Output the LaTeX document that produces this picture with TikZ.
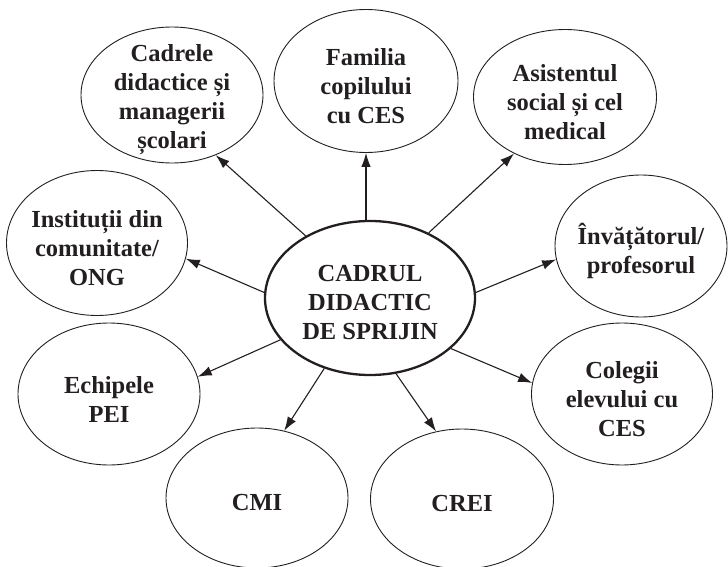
\documentclass[tikz,border=0pt]{standalone}
\usepackage{fontspec}
\setmainfont{Liberation Serif}
\usetikzlibrary{shapes.geometric,arrows.meta}
\definecolor{ink}{RGB}{35,31,32}
\begin{document}
\begin{tikzpicture}[x=1pt,y=-1pt,
  bub/.style={ellipse,draw=ink,line width=0.9pt,inner sep=0pt},
  txt/.style={inner sep=0pt,align=center,yshift=-5pt,
    font=\fontsize{24.5}{29}\selectfont\bfseries,text=ink},
  arr/.style={draw=ink,line width=1.1pt,-{Latex[length=14pt,width=9.5pt]}}]
\useasboundingbox (0,0) rectangle (728,567);
\node[bub,line width=2.3pt,minimum width=210pt,minimum height=154pt] (c) at (370,298) {};
\node[bub,minimum width=182pt,minimum height=136pt] (cad) at (172,95) {};
\node[bub,minimum width=184pt,minimum height=143pt] (fam) at (366,81) {};
\node[bub,minimum width=183pt,minimum height=135pt] (asi) at (565,97) {};
\node[bub,minimum width=172pt,minimum height=142pt] (inv) at (641,246) {};
\node[bub,minimum width=181pt,minimum height=145pt] (ins) at (97,243) {};
\node[bub,minimum width=182pt,minimum height=142pt] (ech) at (109,394) {};
\node[bub,minimum width=182pt,minimum height=140pt] (cmi) at (257,498) {};
\node[bub,minimum width=183pt,minimum height=140pt] (crei) at (462,499) {};
\node[bub,minimum width=181pt,minimum height=142pt] (col) at (622,394) {};
\node[txt] (tc) at (c.center) {CADRUL\\DIDACTIC\\DE SPRIJIN};
\node[txt] (tcad) at (cad.center) {Cadrele\\didactice și\\managerii\\școlari};
\node[txt] (tfam) at (fam.center) {Familia\\copilului\\cu CES};
\node[txt] (tasi) at (asi.center) {Asistentul\\social și cel\\medical};
\node[txt] (tinv) at (inv.center) {Învățătorul/\\profesorul};
\node[txt] (tins) at (ins.center) {Instituții din\\comunitate/\\ONG};
\node[txt] (tech) at (ech.center) {Echipele\\PEI};
\node[txt] (tcmi) at (cmi.center) {CMI};
\node[txt] (tcrei) at (crei.center) {CREI};
\node[txt] (tcol) at (col.center) {Colegii\\elevului cu\\CES};
\draw[arr] (c.136) -- (cad.-54);
\draw[arr] (fam.south |- c.north) -- (fam.south);
\draw[arr] (c.48) -- (asi.228);
\draw[arr] (c.3) -- (inv.189);
\draw[arr] (c.177) -- (ins.-10);
\draw[arr] (c.205) -- (ech.11);
\draw[arr] (c.237) -- (cmi.68);
\draw[arr] (c.289) -- (crei.111);
\draw[arr] (c.328) -- (col.173);
\end{tikzpicture}
\end{document}
